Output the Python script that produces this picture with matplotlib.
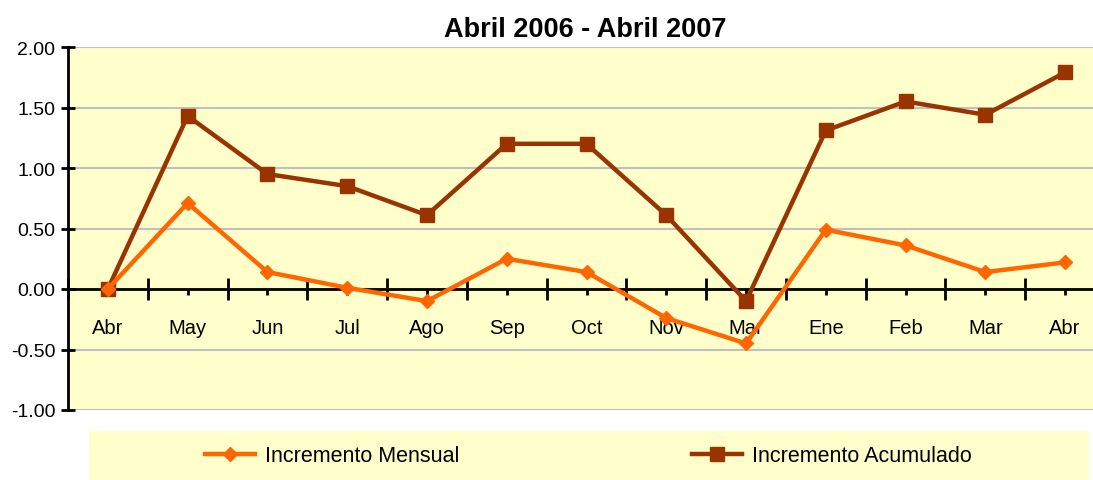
import matplotlib.pyplot as plt
from matplotlib.patches import Rectangle

# Data
meses = ["Abr", "May", "Jun", "Jul", "Ago", "Sep", "Oct", "Nov", "Mar", "Ene", "Feb", "Mar", "Abr"]
mensual = [0.00, 0.71, 0.14, 0.01, -0.10, 0.25, 0.14, -0.24, -0.45, 0.49, 0.36, 0.14, 0.22]
acumulado = [0.00, 1.43, 0.95, 0.85, 0.61, 1.20, 1.20, 0.61, -0.10, 1.31, 1.55, 1.44, 1.79]
y_ticks = [-1.0, -0.5, 0.0, 0.5, 1.0, 1.5, 2.0]

plt.rcParams["font.family"] = ["Liberation Sans", "DejaVu Sans"]

fig = plt.figure(figsize=(10.93, 4.81), dpi=100)
ax = fig.add_axes([68 / 1093, 1 - 411 / 481, (1105 - 68) / 1093, (411 - 48) / 481])
ax.set_facecolor("#FFFFCC")

x = list(range(len(meses)))
l2, = ax.plot(x, acumulado, color="#993300", lw=3.2, marker="s", ms=10,
              label="Incremento Acumulado", zorder=3)
l1, = ax.plot(x, mensual, color="#FF6600", lw=3.2, marker="D", ms=7.5,
              label="Incremento Mensual", zorder=4)

ax.set_xlim(-0.5, len(meses) - 0.5)
ax.set_ylim(-1.0, 2.0)
ax.set_yticks(y_ticks)
ax.set_yticklabels([f"{v:.2f}" for v in y_ticks], fontsize=14)
ax.yaxis.grid(True, color="#C0C0C0", lw=1.5)
ax.set_axisbelow(True)

# x axis sits on zero, ticks between categories, labels under categories
ax.spines["bottom"].set_position(("data", 0))
ax.spines["bottom"].set_linewidth(2)
ax.spines["left"].set_linewidth(2)
ax.spines["top"].set_visible(False)
ax.spines["right"].set_visible(False)
ax.set_xticks([i - 0.5 for i in x] + [len(meses) - 0.5])
ax.set_xticklabels([])
ax.set_xticks(x, minor=True)
ax.set_xticklabels(meses, minor=True, fontsize=14.5)
ax.tick_params(axis="x", which="major", direction="inout", length=16, width=2)
ax.tick_params(axis="x", which="minor", direction="out", length=4, width=2, pad=17)
ax.tick_params(axis="y", direction="inout", length=10, width=2, pad=4)

fig.text(585 / 1093, 1 - 30 / 481, "Abril 2006 - Abril 2007", ha="center", va="center",
         fontsize=19.5, fontweight="bold")

# legend band
fig.patches.append(Rectangle((89 / 1093, 0), 1000 / 1093, 49 / 481, transform=fig.transFigure,
                             facecolor="#FFFFCC", edgecolor="none", zorder=0))
fig.legend(handles=[l1], loc="center left", bbox_to_anchor=(186 / 1093, 1 - 457 / 481),
           frameon=False, fontsize=15.5, handlelength=2.3, handletextpad=0.45)
fig.legend(handles=[l2], loc="center left", bbox_to_anchor=(673 / 1093, 1 - 457 / 481),
           frameon=False, fontsize=15.5, handlelength=2.3, handletextpad=0.45)

fig.savefig("out.png", dpi=100)
